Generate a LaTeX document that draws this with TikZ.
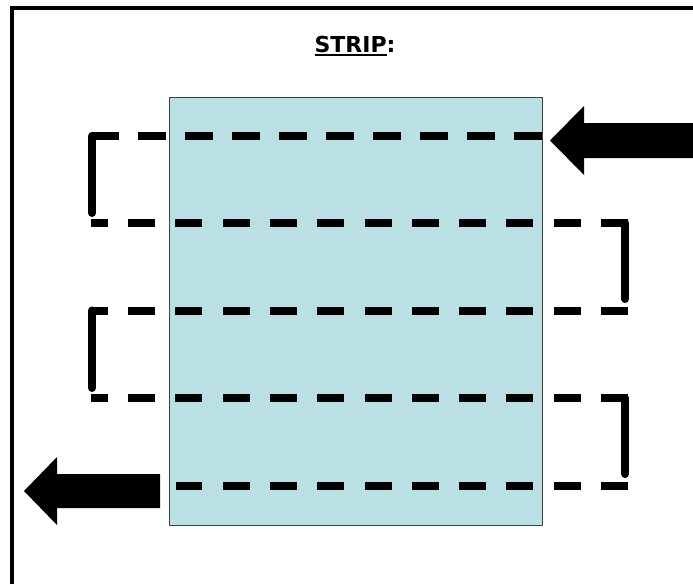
\documentclass[tikz,border=0pt]{standalone}
\usepackage{fontspec}
\setmainfont{DejaVu Sans}
\definecolor{stripblue}{RGB}{187,224,227}
\newcommand\thickul[1]{\setbox0\hbox{#1}\rlap{\rule[-4pt]{\wd0}{2.2pt}}\box0}
\begin{document}
\begin{tikzpicture}[x=1pt,y=-1pt,
	row/.style={line width=8pt,dash pattern=on 27pt off 20.3pt},
	riser/.style={line width=8pt,line cap=round}]
	\useasboundingbox (0,0) rectangle (693,584);
	\fill[white] (0,0) rectangle (693,584);
	\draw[line width=4pt] (12,584) -- (12,8) -- (693,8);
	\node[name=title,anchor=base,font=\fontsize{22}{26}\selectfont\bfseries] at (355,52){\thickul{STRIP}:};
	\node[name=strip,draw=black!75,fill=stripblue,line width=1pt,inner sep=0pt,minimum width=373pt,minimum height=428pt] at (355.5,311){};
	% row ends
	\coordinate (r1e) at (542,136);  \coordinate (r1w) at (91,136);
	\coordinate (r2e) at (628,223);  \coordinate (r2w) at (91,223);
	\coordinate (r3e) at (628,310.5);\coordinate (r3w) at (91,310.5);
	\coordinate (r4e) at (628,398);  \coordinate (r4w) at (91,398);
	\coordinate (r5e) at (628,486);  \coordinate (r5w) at (176,486);
	\draw[row,dash pattern=on 28pt off 19pt] (r1e) -- (r1w);
	\draw[row] (r2e) -- (r2w);
	\draw[row] (r3e) -- (r3w);
	\draw[row] (r4e) -- (r4w);
	\draw[row] (r5e) -- (r5w);
	% turns
	\draw[riser] (92,136) -- (92,213);
	\draw[riser] (625,223) -- (625,299);
	\draw[riser] (92,310.5) -- (92,388);
	\draw[riser] (625,398) -- (625,474);
	% in and out
	\fill[name=inarrow] (693,123) -- (584,123) -- (584,106) -- (550,140.5) -- (584,175) -- (584,158) -- (693,158) -- cycle;
	\fill[name=outarrow] (160,474) -- (57,474) -- (57,457) -- (24,491) -- (57,525) -- (57,508) -- (160,508) -- cycle;
\end{tikzpicture}
\end{document}
